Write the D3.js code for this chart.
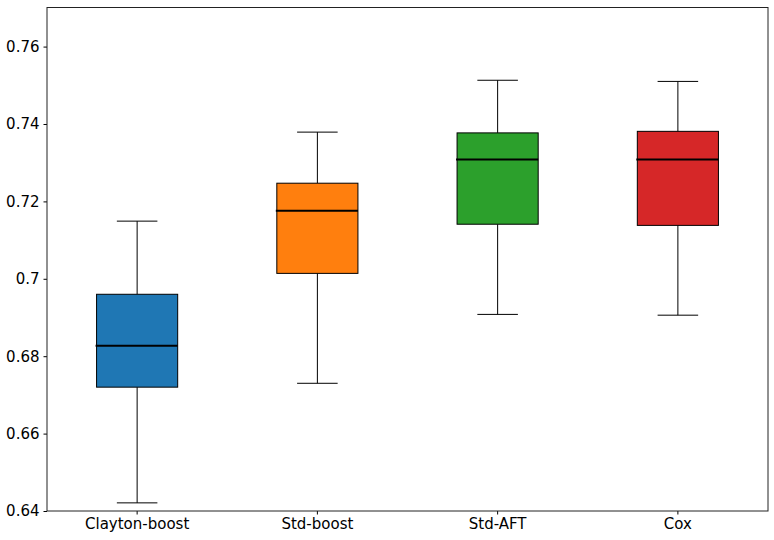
<!DOCTYPE html>
<head>
    <meta charset="UTF-8">
    <title>boxplot</title>
    <style>
        body { margin: 0; background: #fff; }
        text { font-family: "DejaVu Sans", sans-serif; }
    </style>
</head>
<body>
    <script src="https://d3js.org/d3.v7.min.js"></script>
    <script>
        // data
        var categories = ["Clayton-boost", "Std-boost", "Std-AFT", "Cox"]
        var whiskerLow = [0.6421, 0.6730, 0.6908, 0.6906]
        var q1 = [0.6720, 0.7014, 0.7141, 0.7138]
        var median = [0.6827, 0.7176, 0.7308, 0.7308]
        var q3 = [0.6960, 0.7247, 0.7377, 0.7381]
        var whiskerHigh = [0.7149, 0.7379, 0.7513, 0.7510]
        var colors = ["#1f77b4", "#ff7f0e", "#2ca02c", "#d62728"]
        var yTicks = [0.64, 0.66, 0.68, 0.70, 0.72, 0.74, 0.76]
        var yTickLabels = ["0.64", "0.66", "0.68", "0.7", "0.72", "0.74", "0.76"]

        var width = 774
        var height = 540
        var padding = { top: 7.5, right: 6, bottom: 29, left: 47 }

        var svg = d3.select("body")
            .append("svg")
            .attr("width", width)
            .attr("height", height)

        var x = d3.scaleBand()
            .domain(categories)
            .range([padding.left, width - padding.right])
            .paddingInner(0.55)
            .paddingOuter(0.275)

        var y = d3.scaleLinear()
            .domain([0.64, 0.7701])
            .range([height - padding.bottom, padding.top])

        var rows = categories.map(function(c, i){
            return { name: c, lo: whiskerLow[i], q1: q1[i], med: median[i], q3: q3[i], hi: whiskerHigh[i], color: colors[i] }
        })

        var bw = x.bandwidth()
        var g = svg.selectAll("g.box")
            .data(rows)
            .enter()
            .append("g")
            .attr("class", "box")

        // whiskers
        g.append("line")
            .attr("x1", function(d){ return x(d.name) + bw / 2 })
            .attr("x2", function(d){ return x(d.name) + bw / 2 })
            .attr("y1", function(d){ return y(d.hi) })
            .attr("y2", function(d){ return y(d.q3) })
            .attr("stroke", "black")
        g.append("line")
            .attr("x1", function(d){ return x(d.name) + bw / 2 })
            .attr("x2", function(d){ return x(d.name) + bw / 2 })
            .attr("y1", function(d){ return y(d.q1) })
            .attr("y2", function(d){ return y(d.lo) })
            .attr("stroke", "black")
        // caps
        g.selectAll("line.cap")
            .data(function(d){ return [[d.name, d.hi], [d.name, d.lo]] })
            .enter()
            .append("line")
            .attr("class", "cap")
            .attr("x1", function(d){ return x(d[0]) + bw / 4 })
            .attr("x2", function(d){ return x(d[0]) + bw * 3 / 4 })
            .attr("y1", function(d){ return y(d[1]) })
            .attr("y2", function(d){ return y(d[1]) })
            .attr("stroke", "black")

        // boxes
        g.append("rect")
            .attr("x", function(d){ return x(d.name) })
            .attr("y", function(d){ return y(d.q3) })
            .attr("width", bw)
            .attr("height", function(d){ return y(d.q1) - y(d.q3) })
            .attr("fill", function(d){ return d.color })
            .attr("stroke", "black")
            .attr("stroke-width", 1)

        // median
        g.append("line")
            .attr("x1", function(d){ return x(d.name) - 1 })
            .attr("x2", function(d){ return x(d.name) + bw })
            .attr("y1", function(d){ return y(d.med) })
            .attr("y2", function(d){ return y(d.med) })
            .attr("stroke", "black")
            .attr("stroke-width", 2)

        // axes
        var xAxis = svg.append("g")
            .attr("transform", "translate(0," + (height - padding.bottom) + ")")
            .call(d3.axisBottom(x).tickSizeOuter(0).tickSize(3.5).tickPadding(4))
        var yAxis = svg.append("g")
            .attr("transform", "translate(" + padding.left + ",0)")
            .call(d3.axisLeft(y).tickValues(yTicks).tickSizeOuter(0).tickSize(3.5).tickPadding(4)
                .tickFormat(function(d, i){ return yTickLabels[i] }))
        svg.selectAll(".tick text")
            .attr("font-size", "15px")
            .attr("font-family", "DejaVu Sans")
            .attr("fill", "black")
        svg.selectAll(".domain").remove()

        // frame
        svg.append("rect")
            .attr("x", padding.left)
            .attr("y", padding.top)
            .attr("width", width - padding.left - padding.right)
            .attr("height", height - padding.top - padding.bottom)
            .attr("fill", "none")
            .attr("stroke", "#222")
            .attr("stroke-width", 1)
    </script>
</body>
</html>
